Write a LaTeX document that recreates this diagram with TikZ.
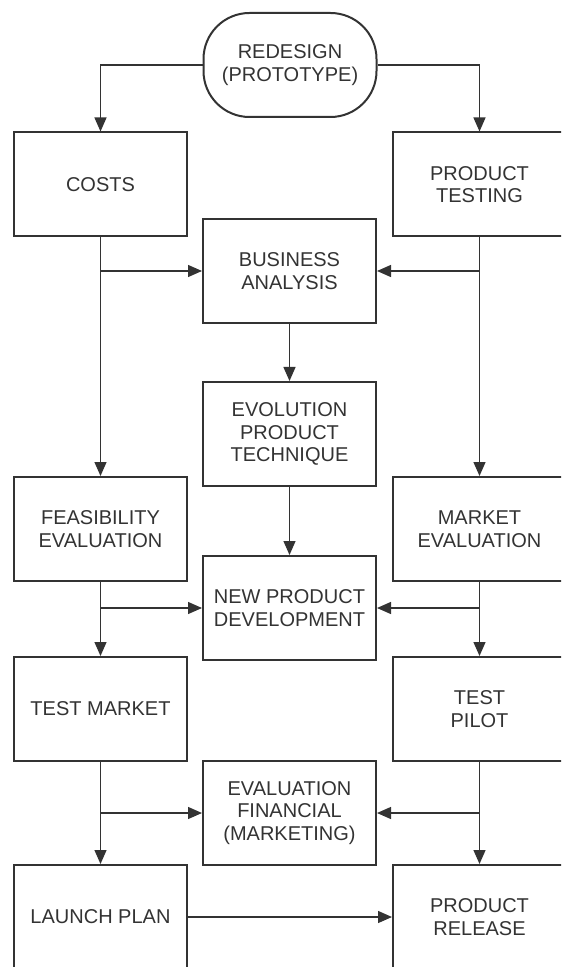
\documentclass[tikz,border=0pt]{standalone}
\usepackage{fontspec}
\setmainfont{Liberation Sans}
\usetikzlibrary{arrows.meta, positioning}
\definecolor{vien}{HTML}{333333}
\tikzset{
    hop/.style={draw=vien, line width=1pt, minimum width=86.5pt, minimum height=52pt,
        inner sep=0pt, align=center, text=vien, font=\fontsize{10}{11.25}\selectfont},
    muiten/.style={draw=vien, line width=0.65pt, -{Triangle[length=7pt,width=6pt]}}
}

\begin{document}
\begin{tikzpicture}[x=0.5pt, y=-0.5pt]

            % Khung hình
            \useasboundingbox (0,0) rectangle (561,967);
            \clip (0,0) rectangle (561,967);

            % Vẽ các hộp
            \node[hop, rounded corners=23pt] (redesign) at (290,65) {REDESIGN\\(PROTOTYPE)};
            \node[hop] (costs) at (100.5,184.5) {COSTS};
            \node[hop] (ptest) at (479.5,184.5) {PRODUCT\\TESTING};
            \node[hop] (ba) at (289.5,271) {BUSINESS\\ANALYSIS};
            \node[hop] (evo) at (289.5,434) {EVOLUTION\\PRODUCT\\TECHNIQUE};
            \node[hop] (feas) at (100.5,529) {FEASIBILITY\\EVALUATION};
            \node[hop] (meval) at (479.5,529) {MARKET\\EVALUATION};
            \node[hop] (npd) at (289.5,608) {NEW PRODUCT\\DEVELOPMENT};
            \node[hop] (tmarket) at (100.5,709) {TEST MARKET};
            \node[hop] (tpilot) at (479.5,709) {TEST\\PILOT};
            \node[hop] (efin) at (289.5,813) {EVALUATION\\FINANCIAL\\(MARKETING)};
            \node[hop] (launch) at (100.5,917) {LAUNCH PLAN};
            \node[hop] (release) at (479.5,917) {PRODUCT\\RELEASE};

            % Vẽ mũi tên từ trên xuống
            \draw[muiten] (redesign.west) -| (costs.north);
            \draw[muiten] (redesign.east) -| (ptest.north);
            \draw[muiten] (costs) -- (feas);
            \draw[muiten] (ptest) -- (meval);
            \draw[muiten] (ba) -- (evo);
            \draw[muiten] (evo) -- (npd);
            \draw[muiten] (feas) -- (tmarket);
            \draw[muiten] (meval) -- (tpilot);
            \draw[muiten] (tmarket) -- (launch);
            \draw[muiten] (tpilot) -- (release);

            % Vẽ nhánh vào hộp giữa
            \draw[muiten] (costs.south |- ba.west) -- (ba.west);
            \draw[muiten] (ptest.south |- ba.east) -- (ba.east);
            \draw[muiten] (feas.south |- npd.west) -- (npd.west);
            \draw[muiten] (meval.south |- npd.east) -- (npd.east);
            \draw[muiten] (tmarket.south |- efin.west) -- (efin.west);
            \draw[muiten] (tpilot.south |- efin.east) -- (efin.east);

            % Mũi tên ngang dưới cùng
            \draw[muiten] (launch) -- (release);

\end{tikzpicture}
\end{document}
